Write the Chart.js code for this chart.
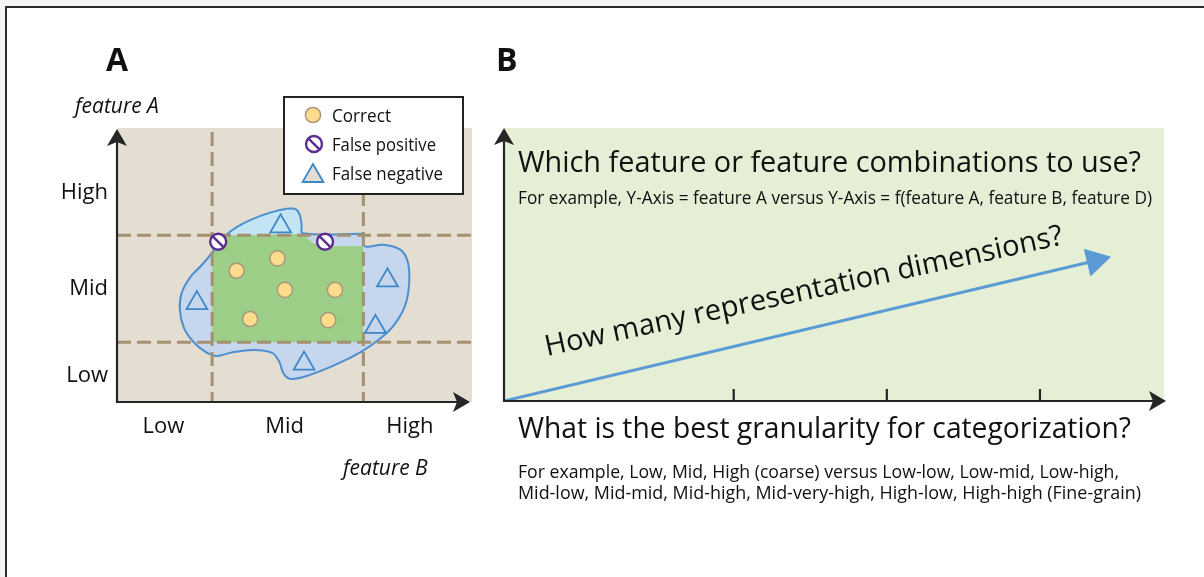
<!DOCTYPE html>
<html>
<head>
<meta charset="utf-8">
<script src="https://cdn.jsdelivr.net/npm/chart.js@4.4.1/dist/chart.umd.min.js"></script>
<style>
  html, body { margin: 0; padding: 0; background: #f4f4f4; }
  #wrap { position: relative; width: 1204px; height: 577px; overflow: hidden; }
  #frame { position: absolute; left: 5px; top: 6px; right: -10px; bottom: -10px; background: #fff;
           border-top: 2px solid #2b2b2b; border-left: 2px solid #2b2b2b; }
  canvas { position: absolute; left: 0; top: 0; }
</style>
</head>
<body>
<div id="wrap">
  <div id="frame"></div>
  <canvas id="chartA" width="1204" height="577"></canvas>
  <canvas id="chartB" width="1204" height="577"></canvas>
</div>
<script>
// ---- Panel A: feature A (y) vs feature B (x), both on a 0-100 scale ----
const bandLabels = ['Low', 'Mid', 'High'];
const xLabelPos = [13.1, 47.2, 82.5];
const yLabelPos = [10.2, 41.8, 77.0];
const xCuts = [26.8, 69.4];
const yCuts = [21.8, 60.9];

// outline of the predicted region (blue blob)
const blobX = [69.4, 69.7, 75.0, 79.7, 81.9, 82.3, 81.1, 77.8, 73.6, 68.9, 61.9, 54.4, 49.2, 47.0, 45.7, 43.6, 38.4, 32.3, 28.1, 24.8, 21.5, 18.9, 17.7, 18.2, 20.6, 23.9, 26.7, 29.0, 30.4, 33.7, 37.5, 43.1, 47.8, 50.4, 51.5, 52.0, 52.3, 69.4];
const blobY = [61.4, 56.9, 57.4, 55.7, 51.2, 43.3, 35.0, 27.7, 22.6, 18.4, 13.8, 9.9, 8.4, 10.2, 14.7, 18.0, 19.0, 18.1, 16.8, 18.4, 22.0, 26.9, 33.6, 39.7, 45.5, 50.0, 54.3, 58.5, 60.6, 63.8, 66.4, 69.1, 70.5, 70.3, 68.2, 64.6, 61.6, 61.4];
// part of the blob above the Mid/High line
const humpX = [29.9, 33.7, 37.5, 43.1, 47.8, 50.4, 51.5, 52.0, 52.3, 40.0, 29.9];
const humpY = [60.9, 63.8, 66.4, 69.1, 70.5, 70.3, 68.2, 64.6, 60.9, 60.9, 60.9];
// true Mid/Mid region
const greenX = [26.8, 26.8, 52.4, 53.5, 55.2, 58.0, 69.3, 69.3, 26.8];
const greenY = [21.9, 60.6, 61.3, 59.9, 58.0, 56.8, 56.9, 21.9, 21.9];

const correctX = [33.7, 45.2, 47.3, 61.4, 37.5, 59.5];
const correctY = [47.9, 52.4, 40.9, 40.9, 30.3, 29.9];
const fpX = [28.5, 58.6];
const fpY = [58.5, 58.5];
const fnX = [46.1, 22.5, 76.2, 72.8, 52.7];
const fnY = [64.1, 36.1, 44.4, 27.4, 14.0];
const legendLabels = ['Correct', 'False positive', 'False negative'];

// ---- Panel B ----
const granTicks = [1.5, 2.5, 3.5];
const dimX = [0, 3.86];
const dimY = [0, 51.4];

const FONT = '"Open Sans", "Noto Sans", sans-serif';
const AXIS = '#262626';
const pts = (xs, ys) => xs.map((x, i) => ({ x: x, y: ys[i] }));

function arrowHead(ctx, x, y, angle) {
    ctx.save();
    ctx.translate(x, y);
    ctx.rotate(angle);
    ctx.beginPath();
    ctx.moveTo(0, 0);
    ctx.lineTo(-17, -10);
    ctx.lineTo(-13, 0);
    ctx.lineTo(-17, 10);
    ctx.closePath();
    ctx.fillStyle = AXIS;
    ctx.fill();
    ctx.restore();
}

function text(ctx, str, x, y, font, maxW, align) {
    ctx.font = font;
    ctx.fillStyle = '#111';
    ctx.textAlign = align || 'left';
    ctx.textBaseline = 'alphabetic';
    if (maxW) ctx.fillText(str, x, y, maxW); else ctx.fillText(str, x, y);
}

function drawIcon(ctx, ds, x, y, fillOverride) {
    ctx.save();
    ctx.fillStyle = fillOverride || ds.pointBackgroundColor;
    ctx.strokeStyle = ds.pointBorderColor;
    ctx.lineWidth = ds.pointBorderWidth;
    Chart.helpers.drawPoint(ctx, {
        pointStyle: ds.pointStyle, radius: ds.pointRadius,
        rotation: ds.rotation || 0, borderWidth: ds.pointBorderWidth
    }, x, y);
    ctx.restore();
}

const panelA = {
    id: 'panelA',
    beforeDraw(chart) {
        const { ctx, chartArea: a } = chart;
        ctx.save();
        ctx.fillStyle = '#e3ddd2';
        ctx.fillRect(a.left, a.top, a.right - a.left, a.bottom - a.top);
        ctx.restore();
    },
    afterDatasetDraw(chart, args) {
        if (chart.data.datasets[args.index].id !== 'outline') return;
        const { ctx, chartArea: a, scales } = chart;
        ctx.save();
        ctx.strokeStyle = '#a4916f';
        ctx.lineWidth = 3;
        ctx.setLineDash([14, 6]);
        xCuts.forEach(v => {
            const px = scales.x.getPixelForValue(v);
            ctx.beginPath(); ctx.moveTo(px, a.top + 4); ctx.lineTo(px, a.bottom); ctx.stroke();
        });
        yCuts.forEach(v => {
            const py = scales.y.getPixelForValue(v);
            ctx.beginPath(); ctx.moveTo(a.left, py); ctx.lineTo(a.right, py); ctx.stroke();
        });
        ctx.restore();
    },
    afterDraw(chart) {
        const { ctx, chartArea: a, scales } = chart;
        ctx.save();
        // axes
        ctx.strokeStyle = AXIS;
        ctx.lineWidth = 2.2;
        ctx.beginPath();
        ctx.moveTo(a.left, a.bottom); ctx.lineTo(a.left, a.top + 10);
        ctx.moveTo(a.left - 1, a.bottom); ctx.lineTo(a.right - 12, a.bottom);
        ctx.stroke();
        arrowHead(ctx, a.left, a.top + 1, -Math.PI / 2);
        arrowHead(ctx, a.right - 2, a.bottom, 0);

        // band labels
        bandLabels.forEach((lab, i) => {
            text(ctx, lab, a.left - 9, scales.y.getPixelForValue(yLabelPos[i]) + 8, '22px ' + FONT, 49, 'right');
            text(ctx, lab, scales.x.getPixelForValue(xLabelPos[i]), 433, '22px ' + FONT, 49, 'center');
        });
        text(ctx, 'A', 106, 71, 'bold 32px ' + FONT);
        text(ctx, 'feature A', 75, 113, 'italic 21px ' + FONT, 88);
        text(ctx, 'feature B', 343, 475, 'italic 21px ' + FONT, 87);

        // legend box
        ctx.fillStyle = '#fff';
        ctx.fillRect(284, 97, 179, 97);
        ctx.strokeStyle = '#222';
        ctx.lineWidth = 2;
        ctx.strokeRect(284, 97, 179, 97);
        const ds = chart.data.datasets;
        const byId = id => ds.find(d => d.id === id);
        drawIcon(ctx, byId('correct'), 313, 115);
        drawIcon(ctx, byId('fp'), 314, 144);
        drawIcon(ctx, byId('fpSlash'), 314, 144);
        drawIcon(ctx, byId('fn'), 313, 176, '#e3ddd2');
        const widths = [59, 104, 111];
        legendLabels.forEach((lab, i) => text(ctx, lab, 332, 122 + i * 29, '19px ' + FONT, widths[i]));
        ctx.restore();
    }
};

new Chart(document.getElementById('chartA'), {
    type: 'scatter',
    data: {
        datasets: [
            { id: 'blobFill', data: pts(blobX, blobY), showLine: true, fill: 'shape', tension: 0.35,
              backgroundColor: '#c6d6ec', borderColor: 'rgba(0,0,0,0)', borderWidth: 0, pointRadius: 0, order: 9 },
            { id: 'hump', data: pts(humpX, humpY), showLine: true, fill: 'shape', tension: 0.35,
              backgroundColor: '#c3e4f5', borderColor: 'rgba(0,0,0,0)', borderWidth: 0, pointRadius: 0, order: 8 },
            { id: 'green', data: pts(greenX, greenY), showLine: true, fill: 'shape', tension: 0,
              backgroundColor: '#9dce88', borderColor: 'rgba(0,0,0,0)', borderWidth: 0, pointRadius: 0, order: 7 },
            { id: 'outline', data: pts(blobX, blobY), showLine: true, fill: false, tension: 0.35,
              borderColor: '#4d8fcf', borderWidth: 2, pointRadius: 0, order: 6 },
            { id: 'fn', label: 'False negative', data: pts(fnX, fnY), pointStyle: 'triangle', pointRadius: 12,
              pointBackgroundColor: 'rgba(0,0,0,0)', pointBorderColor: '#3d87c9', pointBorderWidth: 1.8, order: 3 },
            { id: 'correct', label: 'Correct', data: pts(correctX, correctY), pointStyle: 'circle', pointRadius: 7.6,
              pointBackgroundColor: '#fedc8e', pointBorderColor: '#a8977a', pointBorderWidth: 1.5, order: 2 },
            { id: 'fp', label: 'False positive', data: pts(fpX, fpY), pointStyle: 'circle', pointRadius: 8,
              pointBackgroundColor: '#ffffff', pointBorderColor: '#5c2d91', pointBorderWidth: 2.4, order: 1 },
            { id: 'fpSlash', data: pts(fpX, fpY), pointStyle: 'line', pointRadius: 8, rotation: 45,
              pointBackgroundColor: '#5c2d91', pointBorderColor: '#5c2d91', pointBorderWidth: 2.4, order: 0 }
        ]
    },
    options: {
        responsive: false,
        animation: false,
        events: [],
        layout: { padding: { left: 117, top: 128, right: 1204 - 472, bottom: 577 - 402 } },
        scales: {
            x: { type: 'linear', min: 0, max: 100, display: false },
            y: { type: 'linear', min: 0, max: 100, display: false }
        },
        plugins: { legend: { display: false }, tooltip: { enabled: false } }
    },
    plugins: [panelA]
});

const panelB = {
    id: 'panelB',
    beforeDraw(chart) {
        const { ctx, chartArea: a } = chart;
        ctx.save();
        ctx.fillStyle = '#e4efd6';
        ctx.fillRect(a.left, a.top, a.right - a.left, a.bottom - a.top);
        ctx.restore();
    },
    afterDraw(chart) {
        const { ctx, chartArea: a, scales } = chart;
        ctx.save();
        ctx.strokeStyle = AXIS;
        ctx.lineWidth = 2.2;
        ctx.beginPath();
        ctx.moveTo(a.left, a.bottom); ctx.lineTo(a.left, a.top + 10);
        ctx.moveTo(a.left - 1, a.bottom); ctx.lineTo(a.right - 8, a.bottom);
        granTicks.forEach(v => {
            const px = scales.x.getPixelForValue(v);
            ctx.moveTo(px, a.bottom); ctx.lineTo(px, a.bottom - 12);
        });
        ctx.stroke();
        arrowHead(ctx, a.left, a.top, -Math.PI / 2);
        arrowHead(ctx, a.right + 2, a.bottom, 0);

        text(ctx, 'B', 496, 71, 'bold 32px ' + FONT);
        text(ctx, 'Which feature or feature combinations to use?', 518, 172, '29px ' + FONT, 623);
        text(ctx, 'For example, Y-Axis = feature A versus Y-Axis = f(feature A, feature B, feature D)', 518, 204, '18px ' + FONT, 634);
        text(ctx, 'What is the best granularity for categorization?', 518, 438, '29px ' + FONT, 613);
        text(ctx, 'For example, Low, Mid, High (coarse) versus Low-low, Low-mid, Low-high,', 518, 478, '18px ' + FONT, 601);
        text(ctx, 'Mid-low, Mid-mid, Mid-high, Mid-very-high, High-low, High-high (Fine-grain)', 518, 499, '18px ' + FONT, 623);

        ctx.save();
        ctx.translate(547, 356);
        ctx.rotate(-12.2 * Math.PI / 180);
        text(ctx, 'How many representation dimensions?', 0, 0, '29px ' + FONT, 530);
        ctx.restore();
        ctx.restore();
    }
};

new Chart(document.getElementById('chartB'), {
    type: 'scatter',
    data: {
        datasets: [{
            data: pts(dimX, dimY),
            showLine: true,
            borderColor: '#5b9bd5',
            borderWidth: 3,
            pointStyle: 'triangle',
            pointRadius: [0, 16.5],
            pointBackgroundColor: '#5b9bd5',
            pointBorderWidth: 0,
            rotation: function (c) {
                const xs = c.chart.scales.x, ys = c.chart.scales.y;
                if (!xs || !ys) return 0;
                const dx = xs.getPixelForValue(dimX[1]) - xs.getPixelForValue(dimX[0]);
                const dy = ys.getPixelForValue(dimY[1]) - ys.getPixelForValue(dimY[0]);
                return Math.atan2(dy, dx) * 180 / Math.PI + 90;
            }
        }]
    },
    options: {
        responsive: false,
        animation: false,
        events: [],
        layout: { padding: { left: 504, top: 128, right: 1204 - 1164, bottom: 577 - 401 } },
        scales: {
            x: { type: 'linear', min: 0, max: 4.31, display: false },
            y: { type: 'linear', min: 0, max: 100, display: false }
        },
        plugins: { legend: { display: false }, tooltip: { enabled: false } }
    },
    plugins: [panelB]
});
</script>
</body>
</html>
